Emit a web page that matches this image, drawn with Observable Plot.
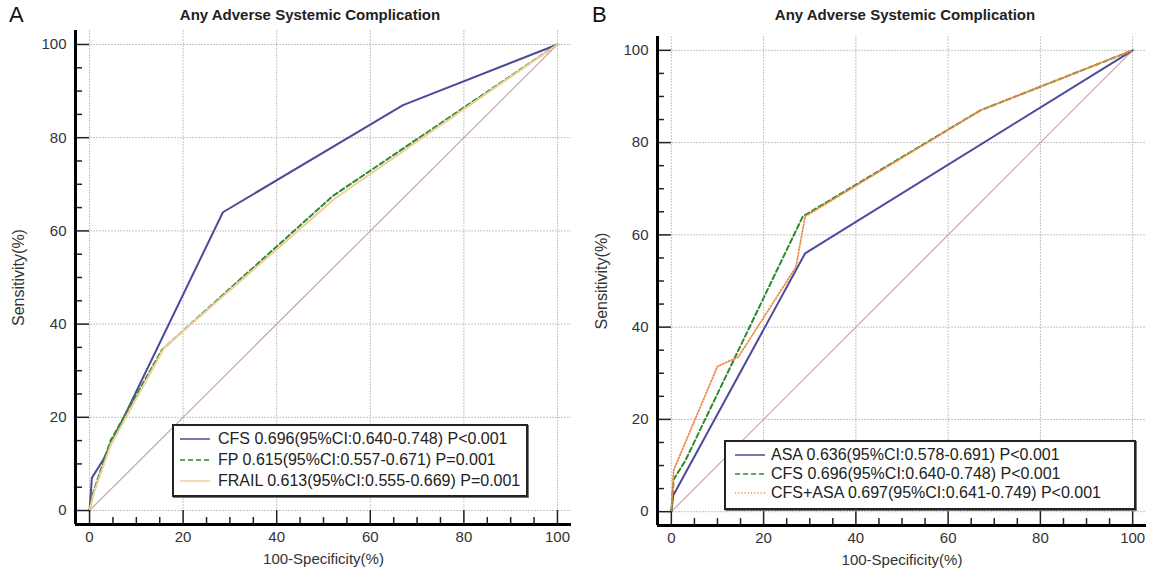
<!DOCTYPE html>
<html><head><meta charset="utf-8">
<script src="https://cdn.jsdelivr.net/npm/d3@7"></script>
<script src="https://cdn.jsdelivr.net/npm/@observablehq/plot@0.6"></script>
<style>
body{margin:0;background:#fff;font-family:"Liberation Sans",Arial,sans-serif;}
#page{position:relative;width:1149px;height:577px;overflow:hidden;background:#fff;}
.panel{position:absolute;top:0;height:577px;}
.title{position:absolute;top:6px;font-weight:bold;font-size:15px;color:#222;white-space:nowrap;transform:translateX(-50%);line-height:17px;}
.letter{position:absolute;top:2px;font-size:22px;color:#111;line-height:26px;}
.chart{position:absolute;top:30px;left:0;}
.legend{position:absolute;border:2px solid #222;background:#fff;box-shadow:1px 1px 0 #777;}
.legend .row{position:absolute;left:0;height:20px;display:flex;align-items:center;font-size:16px;color:#222;white-space:nowrap;}
.legend svg{display:block;}
</style></head>
<body><div id="page"></div>
<script>
// ---- data ----
const majorTicks = [0, 20, 40, 60, 80, 100];
const minorTicks = [5, 10, 15, 25, 30, 35, 45, 50, 55, 65, 70, 75, 85, 90, 95];
const diagX = [0, 100];
const diagY = [0, 100];

const chartTitle = "Any Adverse Systemic Complication";
const xLabel = "100-Specificity(%)";
const yLabel = "Sensitivity(%)";

// Panel A
const cfsX = [0, 0.5, 3, 28.5, 67, 100];
const cfsY = [0, 7, 11, 64, 87, 100];
const fpX = [0, 0.5, 4.5, 15.5, 52, 100];
const fpY = [0, 3, 15, 34.5, 67.5, 100];
const frailX = [0, 1, 4.5, 16, 52.5, 100];
const frailY = [0, 4, 14, 35, 67, 100];
const legendA = [
  "CFS 0.696(95%CI:0.640-0.748) P<0.001",
  "FP 0.615(95%CI:0.557-0.671) P=0.001",
  "FRAIL 0.613(95%CI:0.555-0.669) P=0.001"
];

// Panel B
const asaX = [0, 0.4, 29, 100];
const asaY = [0, 3.5, 56, 100];
const cfsAsaX = [0, 0.5, 10, 14.5, 27, 29, 67, 100];
const cfsAsaY = [0, 9, 31.5, 33.5, 53, 64, 87, 100];
const legendB = [
  "ASA 0.636(95%CI:0.578-0.691) P<0.001",
  "CFS 0.696(95%CI:0.640-0.748) P<0.001",
  "CFS+ASA 0.697(95%CI:0.641-0.749) P<0.001"
];

// ---- styles ----
const BLUE = "#4b4b9c", GREEN = "#2f8a2f", TAN = "#f2cf98", ORANGE = "#f08a45", DIAG = "#c9a2a8";
const toPts = (xs, ys) => xs.map((x, i) => ({x, y: ys[i]}));

function makeChart(cfg) {
  const H = 547;
  const marks = [
    Plot.gridX(majorTicks, {stroke: "#c4c4c4", strokeOpacity: 1, strokeDasharray: "2,1"}),
    Plot.gridY(majorTicks, {stroke: "#c4c4c4", strokeOpacity: 1, strokeDasharray: "2,1"}),
    Plot.line(toPts(diagX, diagY), {x: "x", y: "y", stroke: DIAG, strokeWidth: 1.2})
  ];
  for (const s of cfg.series) {
    marks.push(Plot.line(toPts(s.x, s.y), {x: "x", y: "y", stroke: s.color, strokeWidth: s.width || 2, strokeDasharray: s.dash || null}));
  }
  marks.push(
    Plot.ruleX(minorTicks, {y1: -3, y2: -1.5, stroke: "#222", strokeWidth: 1.5}),
    Plot.ruleX(majorTicks, {y1: -3, y2: 0, stroke: "#222", strokeWidth: 1.5}),
    Plot.ruleY(minorTicks, {x1: -3, x2: -1.5, stroke: "#222", strokeWidth: 1.5}),
    Plot.ruleY(majorTicks, {x1: -3, x2: 0, stroke: "#222", strokeWidth: 1.5}),
    Plot.ruleX([-3], {stroke: "#000", strokeWidth: 3}),
    Plot.ruleY([-3], {stroke: "#000", strokeWidth: 3}),
    Plot.axisX(majorTicks, {tickSize: 0, tickPadding: 7, label: null, fontSize: 15}),
    Plot.axisY(majorTicks, {tickSize: 0, tickPadding: 9, label: null, fontSize: 15}),
    Plot.text([xLabel], {frameAnchor: "bottom", dy: 39, fontSize: 15, fill: "#333", textAnchor: "middle"}),
    Plot.text([yLabel], {frameAnchor: "left", rotate: -90, dx: cfg.ylabDx, fontSize: 16, fill: "#333", textAnchor: "middle"})
  );
  return Plot.plot({
    width: cfg.width, height: H,
    marginLeft: cfg.ml, marginRight: cfg.mr, marginTop: cfg.mt, marginBottom: H - cfg.mt - cfg.ph,
    x: {domain: [-3, 103]}, y: {domain: [-3, 103]},
    style: {fontFamily: "Liberation Sans, Arial, sans-serif", fontSize: "15px", color: "#333", background: "#fff", overflow: "visible"},
    marks
  });
}

function makeLegend(parent, box, labels, series) {
  const lg = document.createElement("div");
  lg.className = "legend";
  Object.assign(lg.style, {left: box.left + "px", top: box.top + "px", width: box.width + "px", height: box.height + "px"});
  labels.forEach((lab, i) => {
    const row = document.createElement("div");
    row.className = "row";
    row.style.top = (box.row0 + i * box.step - 10) + "px";
    row.style.left = box.sampleLeft + "px";
    const s = series[i];
    row.innerHTML = `<svg width="30" height="6"><line x1="0" y1="3" x2="30" y2="3" stroke="${s.color}" stroke-width="1.5" ${s.dash ? `stroke-dasharray="${s.dash}"` : ""}/></svg><span style="margin-left:${box.gap}px">${lab.replace(/</g, "&lt;")}</span>`;
    lg.appendChild(row);
  });
  parent.appendChild(lg);
}

const page = document.getElementById("page");

function makePanel(p) {
  const div = document.createElement("div");
  div.className = "panel";
  div.style.left = p.left + "px";
  div.style.width = p.width + "px";
  const letter = document.createElement("div");
  letter.className = "letter";
  letter.style.left = p.letterLeft + "px";
  letter.textContent = p.letter;
  div.appendChild(letter);
  const title = document.createElement("div");
  title.className = "title";
  title.style.left = p.titleCenter + "px";
  title.textContent = chartTitle;
  div.appendChild(title);
  const ch = document.createElement("div");
  ch.className = "chart";
  ch.appendChild(makeChart(p));
  div.appendChild(ch);
  page.appendChild(div);
  makeLegend(div, p.legendBox, p.legendLabels, p.series);
}

const seriesA = [
  {x: cfsX, y: cfsY, color: BLUE},
  {x: fpX, y: fpY, color: GREEN, dash: "5,3"},
  {x: frailX, y: frailY, color: TAN}
];
const seriesB = [
  {x: asaX, y: asaY, color: BLUE},
  {x: cfsX, y: cfsY, color: GREEN, dash: "5,3"},
  {x: cfsAsaX, y: cfsAsaY, color: ORANGE, dash: "1.2,2", width: 1.8}
];

makePanel({
  left: 0, width: 580, letter: "A", letterLeft: 9, titleCenter: 310,
  ml: 75, mr: 9, mt: 0, ph: 494, ylabDx: -57,
  series: seriesA,
  legendLabels: legendA,
  legendBox: {left: 172, top: 424, width: 352, height: 69, row0: 13, step: 21, sampleLeft: 6, gap: 8}
});
makePanel({
  left: 580, width: 569, letter: "B", letterLeft: 12, titleCenter: 325,
  ml: 77, mr: 3, mt: 6, ph: 489, ylabDx: -56,
  series: seriesB,
  legendLabels: legendB,
  legendBox: {left: 144, top: 440, width: 408, height: 66, row0: 13, step: 19, sampleLeft: 9, gap: 6}
});
</script></body></html>
